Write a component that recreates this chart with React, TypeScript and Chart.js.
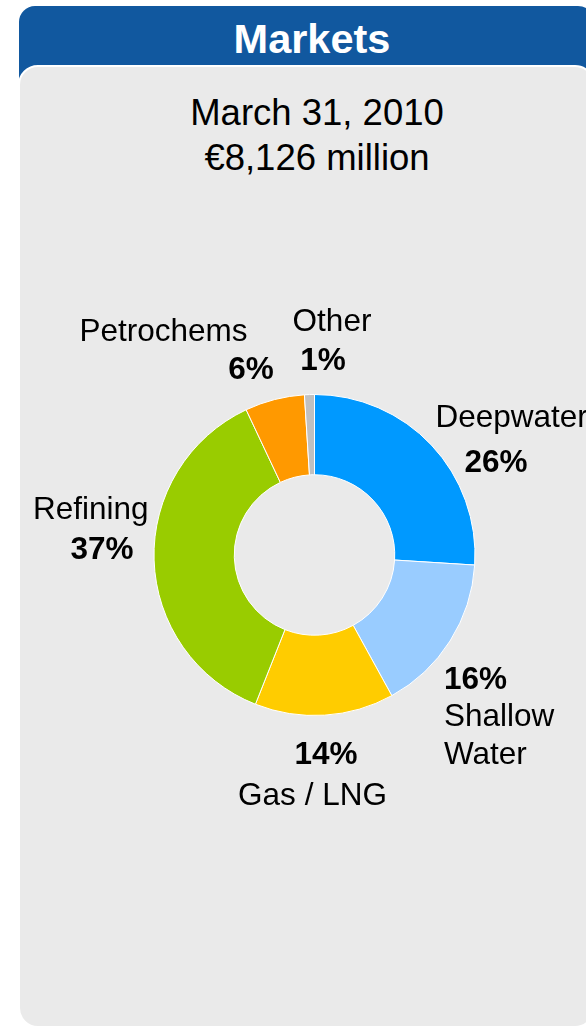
import React, { useEffect, useRef } from "react";
import { Chart, registerables } from "chart.js";

Chart.register(...registerables);

const categories = ["Deepwater", "Shallow Water", "Gas / LNG", "Refining", "Petrochems", "Other"];
const shares = [26, 16, 14, 37, 6, 1];
const sliceColors = ["#0099FF", "#99CCFF", "#FFCC00", "#99CC00", "#FF9900", "#C0C0C0"];
const headerText = "Markets";
const titleLines = ["March 31, 2010", "€8,126 million"];

type LineSpec = { kind: "name" | "pct"; word?: number; align: CanvasTextAlign; dx: number; dy: number };

// label placement relative to the doughnut centre
const labelLayout: LineSpec[][] = [
  [
    { kind: "name", align: "left", dx: 121, dy: -128.3 },
    { kind: "pct", align: "center", dx: 181.5, dy: -83.3 },
  ],
  [
    { kind: "pct", align: "left", dx: 129.5, dy: 134 },
    { kind: "name", word: 0, align: "left", dx: 129.5, dy: 171 },
    { kind: "name", word: 1, align: "left", dx: 129.5, dy: 209.3 },
  ],
  [
    { kind: "pct", align: "center", dx: 11.5, dy: 209.3 },
    { kind: "name", align: "center", dx: -2, dy: 250 },
  ],
  [
    { kind: "name", align: "center", dx: -223.7, dy: -35.7 },
    { kind: "pct", align: "center", dx: -212.5, dy: 4.3 },
  ],
  [
    { kind: "name", align: "center", dx: -151, dy: -214.3 },
    { kind: "pct", align: "center", dx: -63.5, dy: -175.7 },
  ],
  [
    { kind: "name", align: "center", dx: 17.5, dy: -224.3 },
    { kind: "pct", align: "center", dx: 8.5, dy: -185 },
  ],
];

const FONT = '"Liberation Sans", Arial, sans-serif';

const sliceLabelPlugin = {
  id: "sliceLabels",
  afterDraw(chart: any) {
    const meta = chart.getDatasetMeta(0);
    const ctx: CanvasRenderingContext2D = chart.ctx;
    ctx.save();
    meta.data.forEach((arc: any, i: number) => {
      const { x, y } = arc.getProps(["x", "y"], true);
      const words = categories[i].split(" ");
      labelLayout[i].forEach((line) => {
        const bold = line.kind === "pct";
        ctx.font = `${bold ? "bold " : ""}31.5px ${FONT}`;
        ctx.textAlign = line.align;
        ctx.textBaseline = "alphabetic";
        ctx.fillStyle = "#000000";
        const text =
          line.kind === "pct"
            ? `${shares[i]}%`
            : line.word === undefined
            ? categories[i]
            : words[line.word];
        ctx.fillText(text, x + line.dx, y + line.dy);
      });
    });
    ctx.restore();
  },
};

export default function App() {
  const canvasRef = useRef<HTMLCanvasElement | null>(null);

  useEffect(() => {
    if (!canvasRef.current) return;
    const chart = new Chart(canvasRef.current, {
      type: "doughnut",
      data: {
        labels: categories,
        datasets: [
          {
            data: shares,
            backgroundColor: sliceColors,
            borderColor: "#FFFFFF",
            borderWidth: 1,
          },
        ],
      },
      options: {
        animation: false,
        responsive: true,
        maintainAspectRatio: false,
        cutout: "50%",
        layout: { padding: { left: 153.5, right: 110.5, top: 393, bottom: 312 } },
        plugins: {
          legend: { display: false },
          tooltip: { enabled: false },
          title: { display: false },
        },
      },
      plugins: [sliceLabelPlugin],
    });
    return () => chart.destroy();
  }, []);

  return (
    <div
      style={{
        position: "absolute",
        left: 0,
        top: 0,
        width: 586,
        height: 1029,
        overflow: "hidden",
        background: "#FFFFFF",
        fontFamily: FONT,
      }}
    >
      <div
        style={{
          position: "absolute",
          left: 19,
          top: 6,
          width: 575,
          height: 95,
          background: "#11589F",
          borderRadius: "16px 16px 0 0",
        }}
      />
      <div
        style={{
          position: "absolute",
          left: 312,
          top: 38.5,
          transform: "translate(-50%, -50%)",
          color: "#FFFFFF",
          fontWeight: "bold",
          fontSize: 41.5,
          lineHeight: 1,
          whiteSpace: "nowrap",
        }}
      >
        {headerText}
      </div>
      <div
        style={{
          position: "absolute",
          left: 18,
          top: 65,
          width: 577,
          height: 963,
          boxSizing: "border-box",
          background: "#EAEAEA",
          border: "2px solid #FFFFFF",
          borderRadius: 20,
        }}
      />
      <div
        style={{
          position: "absolute",
          left: 0,
          top: 90,
          width: 634,
          textAlign: "center",
          color: "#000000",
          fontSize: 36.5,
          lineHeight: "45px",
          whiteSpace: "nowrap",
        }}
      >
        {titleLines.map((t) => (
          <div key={t}>{t}</div>
        ))}
      </div>
      <div style={{ position: "absolute", left: 0, top: 0, width: 586, height: 1029 }}>
        <canvas ref={canvasRef} />
      </div>
    </div>
  );
}
